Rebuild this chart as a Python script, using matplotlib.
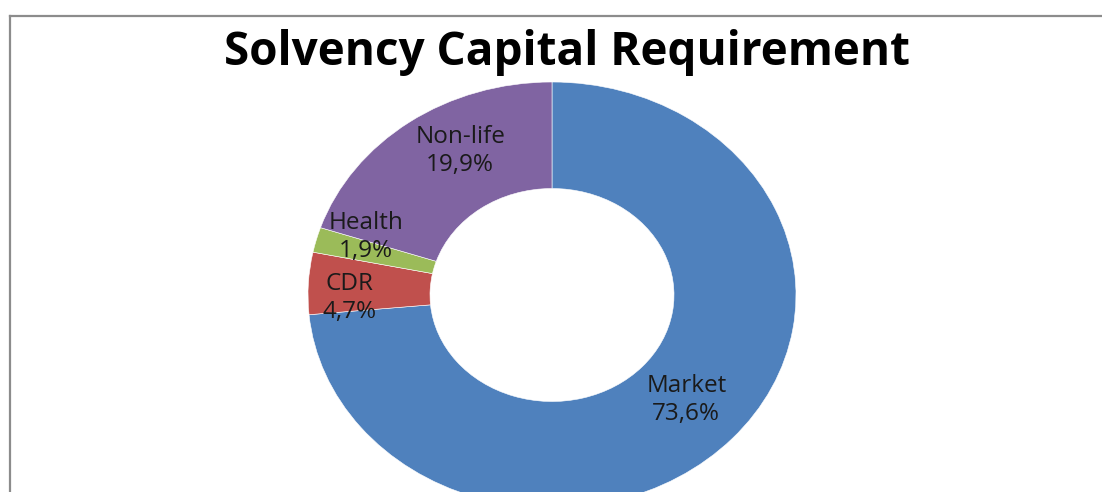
import matplotlib.pyplot as plt
import numpy as np
from matplotlib.lines import Line2D

categories = ['Market', 'CDR', 'Health', 'Non-life']
shares = [73.6, 4.7, 1.9, 19.9]
pct_labels = ['73,6%', '4,7%', '1,9%', '19,9%']
colors = ['#4F81BD', '#C0504D', '#9BBB59', '#8064A2']

# label placement (radius, angle shift in degrees) - Excel style nudges
lab_r = [0.74, 0.83, 0.81, 0.775]
lab_shift = [0.4, 4.1, -4.6, -6.7]

plt.rcParams['font.family'] = ['Open Sans', 'DejaVu Sans']

fig = plt.figure(figsize=(11.02, 4.92), dpi=100)
ax = fig.add_axes([0, 0, 1, 1])

wedges, _ = ax.pie(shares, colors=colors, startangle=90, counterclock=False,
                   radius=1.0, wedgeprops=dict(width=0.5, edgecolor='white', linewidth=0.4))
ax.set_aspect('auto')

# pixel geometry of the reference: centre (552, 295), rx 244, ry 213
W, H = 1102, 492
cx, cy, rx, ry = 552, 295, 244, 213
ax.set_xlim(-cx / rx, (W - cx) / rx)
ax.set_ylim((cy - H) / ry, cy / ry)
ax.axis('off')

for w, cat, pl, r, s in zip(wedges, categories, pct_labels, lab_r, lab_shift):
    ang = np.deg2rad((w.theta1 + w.theta2) / 2 + s)
    ax.text(r * np.cos(ang), r * np.sin(ang), cat + '\n' + pl, ha='center', va='center',
            fontsize=17.5, color='#1a1a1a', linespacing=1.22)

fig.text(567 / W, 1 - 65 / H, 'Solvency Capital Requirement', ha='center', va='baseline',
         fontsize=33, fontweight='bold', color='black')

# chart area border (left and top edges visible)
fig.add_artist(Line2D([10 / W, 10 / W], [0, 1 - 15.5 / H], color='#8c8c8c', lw=1.6))
fig.add_artist(Line2D([10 / W, 1], [1 - 15.5 / H, 1 - 15.5 / H], color='#8c8c8c', lw=1.6))

fig.savefig('out.png', dpi=100)
